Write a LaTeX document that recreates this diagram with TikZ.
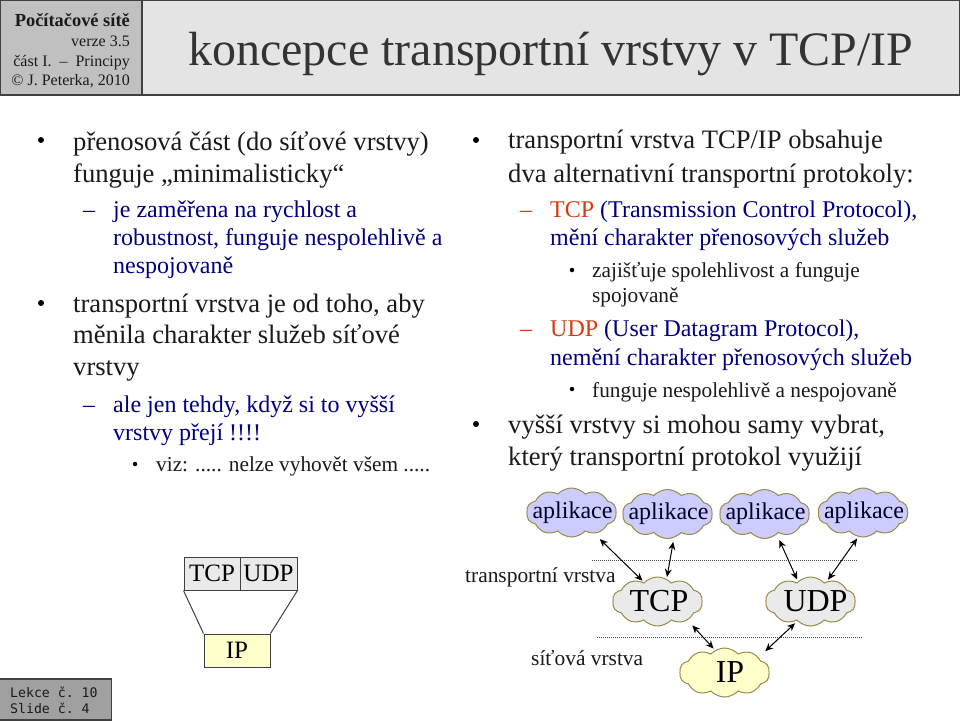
\documentclass[tikz,border=0pt]{standalone}
\usepackage{fontspec}
\setmainfont{Liberation Serif}
\setmonofont{DejaVu Sans Mono}
\usepackage{tikz}
\usetikzlibrary{arrows.meta,shapes.symbols}
\definecolor{headgray}{HTML}{C0C0C0}
\definecolor{titlegray}{HTML}{E4E4E4}
\definecolor{lessongray}{HTML}{A0A0A0}
\definecolor{framegray}{HTML}{404040}
\definecolor{inkblack}{HTML}{1A1A1A}
\definecolor{titleink}{HTML}{333333}
\definecolor{navyink}{HTML}{000080}
\definecolor{cloudline}{HTML}{9A8A48}
\definecolor{appblue}{HTML}{CCCCFF}
\definecolor{transgray}{HTML}{EAEAEA}
\definecolor{ipyellow}{HTML}{FFFFCC}
\definecolor{tcpred}{HTML}{D63A10}
\tikzset{
  lineA/.style={anchor=base west,inkblack,font=\fontsize{26.6}{26.6}\selectfont,inner sep=0pt},
  lineB/.style={anchor=base west,navyink,font=\fontsize{24}{24}\selectfont,inner sep=0pt},
  lineC/.style={anchor=base west,inkblack,font=\fontsize{21.3}{21.3}\selectfont,inner sep=0pt},
  dotA/.style={circle,fill=black,inner sep=0pt,minimum size=6pt},
  dotC/.style={circle,fill=black,inner sep=0pt,minimum size=4.5pt},
  cloudbox/.style={cloud,cloud puffs=10,cloud puff arc=95,cloud ignores aspect,draw=cloudline,line width=1pt,inner xsep=-24pt,inner ysep=-10pt,minimum width=90pt,minimum height=49pt},
  linkline/.style={draw=black,line width=1pt,shorten <=2pt,shorten >=2pt,{Stealth[length=8pt,width=7pt]}-{Stealth[length=8pt,width=7pt]}},
  levelline/.style={draw=black!70,line width=1pt,dash pattern=on 1pt off 1pt},
  stackbox/.style={draw=framegray,line width=1pt,inner sep=0pt,font=\fontsize{25}{25}\selectfont,text=black}
}
\begin{document}
\begin{tikzpicture}[x=1pt,y=-1pt]
    \useasboundingbox (0,0) rectangle (960,720);
    \path[fill=white] (0,0) rectangle (960,720);
    % header
    \node[draw=framegray,fill=headgray,line width=1.5pt,minimum width=142pt,minimum height=95pt,inner sep=0pt] (head) at (71,47.5) {};
    \node[draw=framegray,fill=titlegray,line width=1.5pt,minimum width=817pt,minimum height=95pt,inner sep=0pt] (titlebar) at (551,47.5) {};
    \node[anchor=base east,inner sep=0pt,font=\bfseries\fontsize{18.4}{18.4}\selectfont,text=inkblack] (h1) at (130,26) {Počítačové sítě};
    \node[anchor=base east,inner sep=0pt,font=\fontsize{16}{16}\selectfont,text=inkblack] (h2) at (130,46.5) {verze 3.5};
    \node[anchor=base east,inner sep=0pt,font=\fontsize{16}{16}\selectfont,text=inkblack] (h3) at (130,66) {část I. \ -- \ Principy};
    \node[anchor=base east,inner sep=0pt,font=\fontsize{16}{16}\selectfont,text=inkblack] (h4) at (130,85) {© J. Peterka, 2010};
    \node[anchor=base west,inner sep=0pt,font=\fontsize{48}{48}\selectfont,text=titleink] (title) at (188,65) {koncepce transportní vrstvy v TCP/IP};
    % left column
    \node[dotA] (ldot1) at (41,140) {};
    \node[lineA] (l1) at (73,150) {přenosová část (do síťové vrstvy)};
    \node[lineA] (l2) at (73,182) {funguje „minimalisticky“};
    \node[lineB] (ldash1) at (83,217) {--};
    \node[lineB] (l3) at (113,217) {je zaměřena na rychlost a};
    \node[lineB] (l4) at (113,245) {robustnost, funguje nespolehlivě a};
    \node[lineB] (l5) at (113,273) {nespojovaně};
    \node[dotA] (ldot2) at (41,303) {};
    \node[lineA] (l6) at (73,312) {transportní vrstva je od toho, aby};
    \node[lineA] (l7) at (73,343) {měnila charakter služeb síťové};
    \node[lineA] (l8) at (73,375) {vrstvy};
    \node[lineB] (ldash2) at (83,412) {--};
    \node[lineB] (l9) at (113,412) {ale jen tehdy, když si to vyšší};
    \node[lineB] (l10) at (113,440) {vrstvy přejí !!!!};
    \node[dotC] (ldot3) at (135,464) {};
    \node[lineC] (l11) at (156,471) {viz: ..... nelze vyhovět všem .....};
    % right column
    \node[dotA] (rdot1) at (476,140) {};
    \node[lineA] (r1) at (508,148) {transportní vrstva TCP/IP obsahuje};
    \node[lineA] (r2) at (508,182) {dva alternativní transportní protokoly:};
    \node[lineB,tcpred] (rdash1) at (520,217) {--};
    \node[lineB] (r3) at (550,217) {\textcolor{tcpred}{TCP} (Transmission Control Protocol),};
    \node[lineB] (r4) at (550,245) {mění charakter přenosových služeb};
    \node[dotC] (rdot2) at (572,270) {};
    \node[lineC] (r5) at (592,277) {zajišťuje spolehlivost a funguje};
    \node[lineC] (r6) at (592,302) {spojovaně};
    \node[lineB,tcpred] (rdash2) at (520,336) {--};
    \node[lineB] (r7) at (550,336) {\textcolor{tcpred}{UDP} (User Datagram Protocol),};
    \node[lineB] (r8) at (550,365) {nemění charakter přenosových služeb};
    \node[dotC] (rdot3) at (572,389) {};
    \node[lineC] (r9) at (592,397) {funguje nespolehlivě a nespojovaně};
    \node[dotA] (rdot4) at (476,424) {};
    \node[lineA] (r10) at (508,433) {vyšší vrstvy si mohou samy vybrat,};
    \node[lineA] (r11) at (508,465) {který transportní protokol využijí};
    % clouds
    \begin{scope}[every node/.style={cloudbox,fill=appblue,font=\fontsize{24}{24}\selectfont,text=black!85!blue}]
      \node (app1) at (571.5,512.5) {\hspace*{2pt}\raisebox{-6pt}{aplikace}};
      \node (app2) at (667.5,514) {\hspace*{2pt}\raisebox{-6pt}{aplikace}};
      \node (app3) at (764.5,514) {\hspace*{2pt}\raisebox{-6pt}{aplikace}};
      \node (app4) at (863,512.5) {\hspace*{2pt}\raisebox{-6pt}{aplikace}};
    \end{scope}
    \begin{scope}[every node/.style={cloudbox,font=\fontsize{32}{32}\selectfont,text=black}]
      \node[fill=transgray] (tcp) at (657.5,601.5) {\hspace*{3pt}TCP};
      \node[fill=transgray] (udp) at (810.5,601.5) {\hspace*{10pt}UDP};
      \node[fill=ipyellow] (ip) at (724.5,672.5) {\hspace*{11pt}\raisebox{-6pt}{IP}};
    \end{scope}
    \node[anchor=base west,inner sep=0pt,font=\fontsize{21.4}{21.4}\selectfont,text=inkblack] (transp) at (465,582) {transportní vrstva};
    \node[anchor=base west,inner sep=0pt,font=\fontsize{21.4}{21.4}\selectfont,text=inkblack] (netw) at (531,665) {síťová vrstva};
    \coordinate (t1) at (592,560);
    \coordinate (t2) at (857,560);
    \coordinate (n1) at (597,637);
    \coordinate (n2) at (862,637);
    \draw[levelline] (t1) -- (t2);
    \draw[levelline] (n1) -- (n2);
    \path[linkline,shorten <=8pt] (app1.-43) -- (tcp.125);
    \path[linkline,shorten <=4pt] (app2.-75) -- (tcp.68);
    \path[linkline,shorten <=6pt] (app3.-59) -- (udp.122);
    \path[linkline] (app4.-101) -- (udp.51);
    \path[linkline,shorten <=7pt] (tcp.-32) -- (ip.113);
    \path[linkline,shorten <=3pt,shorten >=9pt] (udp.-124) -- (ip.24);
    % stack
    \node[stackbox,fill=transgray,minimum width=56pt,minimum height=33pt] (stcp) at (212,573.5) {TCP};
    \node[stackbox,fill=transgray,minimum width=57pt,minimum height=33pt] (sudp) at (268.5,573.5) {UDP};
    \node[stackbox,fill=ipyellow,minimum width=66pt,minimum height=33pt] (sip) at (237,650.5) {IP};
    \draw[framegray,line width=1pt] (stcp.south west) -- (sip.north west);
    \draw[framegray,line width=1pt] (sudp.south east) -- (sip.north east);
    % lesson box
    \node[draw=framegray,fill=lessongray,line width=1.5pt,minimum width=112pt,minimum height=41pt,inner sep=0pt] (lesson) at (55.5,699.5) {};
    \node[anchor=base west,inner sep=0pt,font=\ttfamily\fontsize{13.2}{13.2}\selectfont,text=inkblack] (les1) at (10,697) {Lekce č. 10};
    \node[anchor=base west,inner sep=0pt,font=\ttfamily\fontsize{13.2}{13.2}\selectfont,text=inkblack] (les2) at (10,713) {Slide č. 4};
\end{tikzpicture}
\end{document}
